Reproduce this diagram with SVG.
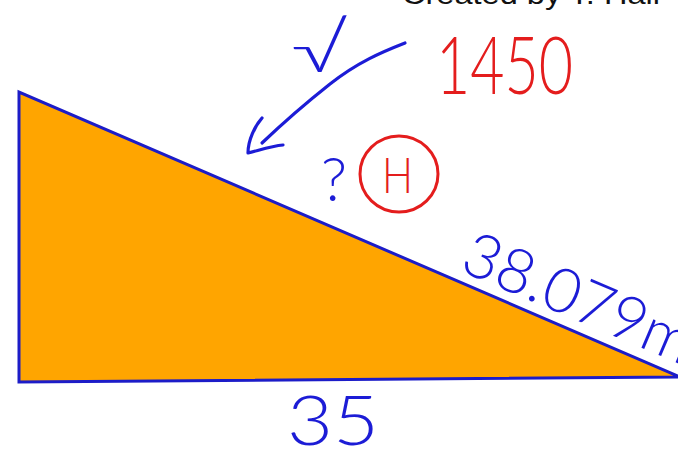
<svg xmlns="http://www.w3.org/2000/svg" width="678" height="452" viewBox="0 0 678 452">
<style>
.hand{font-family:"Lato","Open Sans","Liberation Sans",sans-serif;font-weight:300}
.blue{fill:#1c1cd6}
.red{fill:#e41d1d}
.bstroke{fill:none;stroke:#1c1cd6;stroke-width:3.2;stroke-linecap:round;stroke-linejoin:round}
.rstroke{fill:none;stroke:#e41d1d;stroke-width:3;stroke-linecap:round}
</style>
<rect width="678" height="452" fill="#ffffff"/>
<text x="402" y="4" font-family="Liberation Sans, sans-serif" font-size="28" fill="#111" textLength="258" lengthAdjust="spacingAndGlyphs">Created by T. Hall</text>
<g id="triangle">
<polygon points="19,92 19,382 680,377" fill="#ffa500" stroke="#1c1cc8" stroke-width="3" stroke-linejoin="miter"/>
</g>
<g id="label-hyp">
<text class="hand blue" transform="translate(458,270) rotate(23)" font-size="62" textLength="244" lengthAdjust="spacingAndGlyphs">38.079m</text>
</g>
<g id="label-base">
<text class="hand blue" x="287" y="445" font-size="68" textLength="92" lengthAdjust="spacingAndGlyphs">35</text>
</g>
<g id="label-1450">
<text class="hand red" x="436" y="94" font-size="80" textLength="137" lengthAdjust="spacingAndGlyphs">1450</text>
</g>
<g id="label-H">
<ellipse class="rstroke" cx="399" cy="174" rx="39" ry="38"/>
<text class="hand red" x="382" y="193" font-size="50" textLength="31" lengthAdjust="spacingAndGlyphs">H</text>
</g>
<g id="label-q">
<text class="hand blue" x="321" y="201" font-size="62" textLength="26" lengthAdjust="spacingAndGlyphs">?</text>
</g>
<g id="label-sqrt">
<text class="hand blue" x="291" y="72" font-size="66" textLength="57" lengthAdjust="spacingAndGlyphs">√</text>
</g>
<g id="connectors">
<path class="bstroke" d="M405,43 C382,52 358,62 330,84 C306,103 284,122 262,143"/>
<path class="bstroke" d="M262,118 C255,126 248,140 248,153 C260,150 272,146 283,145"/>
</g>
</svg>
